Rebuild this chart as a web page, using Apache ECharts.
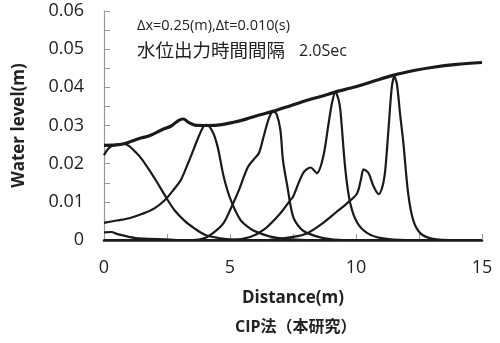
<!DOCTYPE html>
<html><head><meta charset="utf-8">
<script src="https://cdn.jsdelivr.net/npm/echarts@6/dist/echarts.min.js"></script>
<style>html,body{margin:0;padding:0;background:#fff}#c{width:500px;height:343px}</style>
</head><body><div id="c"></div>
<script>
// Envelope (maximum water level)
const envelope = [[0,0.0248],[0.5,0.0249],[0.9,0.0254],[1.4,0.0266],[1.8,0.0273],[2.3,0.0289],[2.65,0.0298],[2.95,0.0313],[3.15,0.0317],[3.35,0.0308],[3.6,0.0301],[4.0,0.0300],[4.5,0.0301],[5.1,0.0308],[5.6,0.0316],[6.2,0.0328],[6.7,0.0337],[7.4,0.0352],[8.0,0.0365],[8.6,0.0376],[9.2,0.0388],[9.9,0.0400],[10.6,0.0414],[11.5,0.0432],[12.3,0.0444],[13.0,0.0452],[14.0,0.0460],[15,0.0465]];
// Snapshot profiles every 2.0 s
const profileA = [[0,0.0222],[0.15,0.0238],[0.35,0.0248],[0.8,0.0252],[1.0,0.0246],[1.27,0.0229],[1.5,0.0212],[1.78,0.0185],[2.1,0.0152],[2.45,0.0113],[2.8,0.0078],[3.2,0.0050],[3.6,0.0030],[4.0,0.0014],[4.5,0.0006],[5.0,0.0002],[5.5,0],[15,0]];
const profileB = [[0,0.0045],[0.5,0.0051],[1.0,0.0057],[1.5,0.0068],[2.0,0.0083],[2.45,0.0107],[2.8,0.0135],[3.05,0.0157],[3.44,0.0218],[3.75,0.0270],[3.95,0.0298],[4.05,0.0302],[4.3,0.0285],[4.51,0.0244],[4.75,0.0166],[5.03,0.0105],[5.42,0.0052],[5.8,0.0030],[6.1,0.0020],[6.6,0.0009],[7.2,0.0003],[8,0],[15,0]];
const profileC = [[0,0.0020],[0.3,0.0021],[0.5,0.0016],[0.87,0.0010],[1.27,0.0005],[1.8,0.0003],[2.4,0.0002],[3.0,0],[15,0]];
const profileD = [[0,0],[3.5,0],[4.0,0.0005],[4.4,0.0022],[4.75,0.0045],[5.0,0.0078],[5.35,0.0130],[5.7,0.0190],[5.95,0.0212],[6.15,0.0228],[6.33,0.0270],[6.55,0.0320],[6.72,0.0337],[6.85,0.0330],[7.0,0.0288],[7.1,0.0210],[7.28,0.0139],[7.5,0.0062],[7.8,0.0030],[8.07,0.0018],[8.7,0.0005],[9.5,0],[15,0]];
const profileE = [[0,0],[5.0,0],[5.8,0.0008],[6.4,0.0030],[7.0,0.0070],[7.4,0.0105],[7.5,0.0113],[7.9,0.0175],[8.2,0.0190],[8.45,0.0175],[8.7,0.0218],[8.9,0.0300],[9.05,0.0360],[9.18,0.0387],[9.3,0.0370],[9.38,0.0340],[9.58,0.0183],[9.77,0.0097],[10.05,0.0045],[10.45,0.0018],[11.0,0.0005],[12,0],[15,0]];
const profileF = [[0,0],[6.5,0],[7.5,0.0008],[8.07,0.0018],[8.7,0.0045],[9.2,0.0072],[9.64,0.0096],[10.04,0.0122],[10.2,0.0160],[10.3,0.0185],[10.5,0.0175],[10.7,0.0140],[10.9,0.0120],[11.05,0.0140],[11.16,0.0183],[11.3,0.0300],[11.42,0.0400],[11.52,0.0428],[11.62,0.0410],[11.75,0.0330],[11.88,0.0254],[12.07,0.0122],[12.27,0.0052],[12.55,0.0018],[13.0,0.0004],[14,0],[15,0]];
const profiles = [profileC, profileA, profileB, profileD, profileE, profileF];
const xTicks = [0, 5, 10, 15];
const yTickLabels = ['0','0.01','0.02','0.03','0.04','0.05','0.06'];
const annot1 = 'Δx=0.25(m),Δt=0.010(s)';
const annot2a = '水位出力時間間隔';
const annot2b = '2.0Sec';
const xName = 'Distance(m)';
const yName = 'Water level(m)';
const caption = 'CIP法（本研究）';

const FONT = "'Open Sans','Noto Sans CJK JP',sans-serif";
const chart = echarts.init(document.getElementById('c'), null, {renderer:'canvas'});
const series = profiles.map(p => ({
  type:'line', data:p, showSymbol:false, smooth:0.3,
  lineStyle:{color:'#1a1a1a', width:2.2}, silent:true, animation:false
}));
series.push({type:'line', data:envelope, showSymbol:false, smooth:0.3,
  lineStyle:{color:'#1a1a1a', width:3.2}, silent:true, animation:false, z:3});
chart.setOption({
  animation:false,
  textStyle:{fontFamily:FONT},
  grid:{left:104, right:18, top:11, bottom:103},
  xAxis:{type:'value', min:0, max:15, interval:2.5,
    name:xName, nameLocation:'middle', nameGap:50,
    nameTextStyle:{fontFamily:FONT, fontSize:17, fontWeight:'bold', color:'#222'},
    axisLine:{lineStyle:{color:'#1a1a1a', width:2.5}},
    axisTick:{inside:true, length:6, lineStyle:{color:'#999', width:1}},
    splitLine:{show:false},
    axisLabel:{fontFamily:FONT, fontSize:18, color:'#222', margin:19,
      formatter:v => xTicks.indexOf(v) >= 0 ? String(v) : ''}},
  yAxis:{type:'value', min:0, max:0.06, interval:0.005,
    name:yName, nameLocation:'middle', nameGap:76, nameRotate:90,
    nameTextStyle:{fontFamily:FONT, fontSize:17, fontWeight:'bold', color:'#222'},
    axisLine:{show:true, lineStyle:{color:'#999', width:1.2}},
    axisTick:{show:true, inside:true, length:6, lineStyle:{color:'#999', width:1}},
    splitLine:{show:false},
    axisLabel:{fontFamily:FONT, fontSize:18, color:'#222', margin:20,
      formatter:v => { const i = Math.round(v*1000); if (i % 10 !== 0) return ''; return yTickLabels[i/10]; }}},
  graphic:[
    {type:'text', left:137, top:19, style:{text:annot1, font:"14.5px 'Open Sans','Noto Sans CJK JP'", fill:'#222'}},
    {type:'text', left:137, top:41, style:{text:annot2a, font:"18.5px 'Noto Sans CJK JP'", fill:'#222'}},
    {type:'text', left:299, top:43, style:{text:annot2b, font:"16px 'Open Sans'", fill:'#222'}},
    {type:'text', left:235, top:319, style:{text:caption, font:"bold 16px 'Open Sans','Noto Sans CJK JP'", fill:'#222'}}
  ],
  series:series
});
</script></body></html>
